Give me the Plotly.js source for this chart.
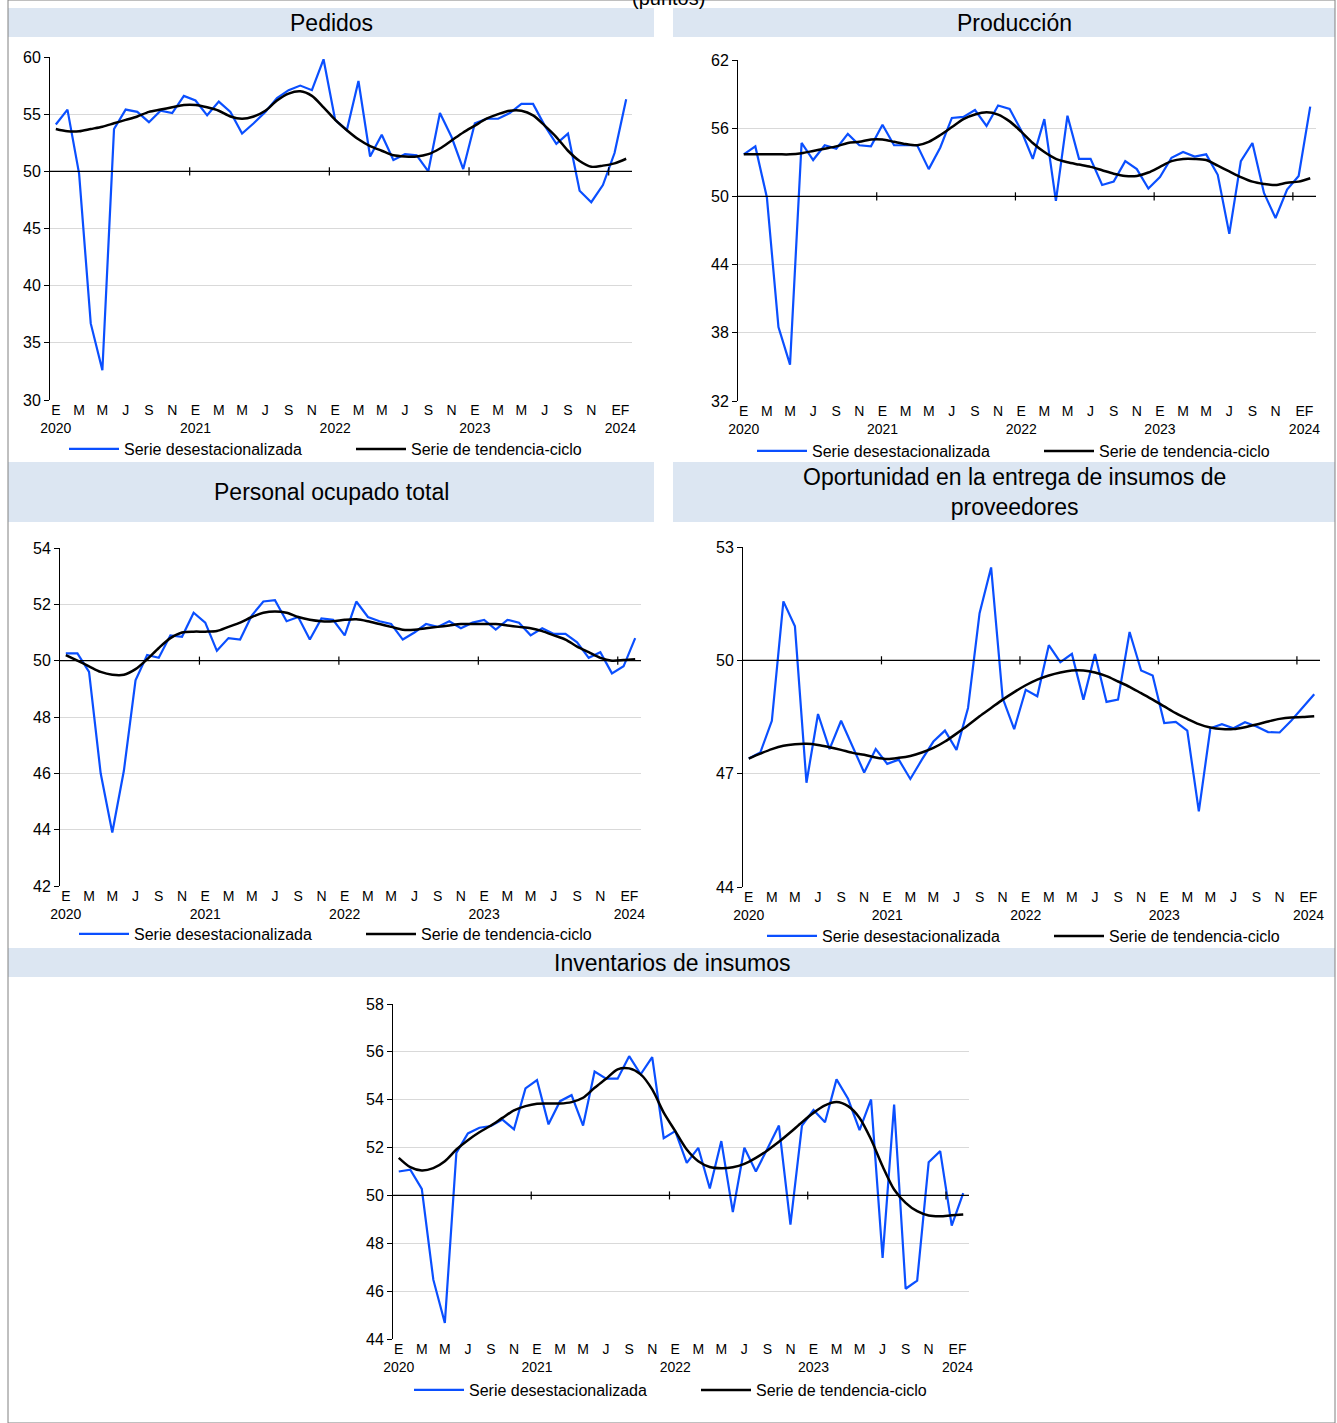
<!DOCTYPE html>
<html>
<head>
<meta charset="utf-8">
<script src="https://cdn.plot.ly/plotly-3.0.1.min.js"></script>
<style>body{margin:0;background:#fff}#chart{width:1337px;height:1423px}</style>
</head>
<body>
<div id="chart"></div>
<script>
// monthly data, Jan 2020 .. Feb 2024 (50 months)
const pedidosSA = [54.1,55.4,49.8,36.7,32.6,53.7,55.4,55.2,54.3,55.3,55.1,56.6,56.2,54.9,56.1,55.2,53.3,54.2,55.2,56.4,57.1,57.5,57.1,59.8,54.5,53.6,57.9,51.3,53.2,51.0,51.5,51.4,50.0,55.1,53.0,50.2,54.2,54.6,54.6,55.1,55.9,55.9,54.0,52.4,53.3,48.3,47.3,48.8,51.6,56.3];
const pedidosTC = [53.7,53.5,53.5,53.7,53.9,54.2,54.5,54.8,55.2,55.4,55.6,55.8,55.8,55.6,55.3,54.8,54.6,54.8,55.3,56.2,56.8,57.0,56.6,55.6,54.5,53.6,52.8,52.2,51.8,51.4,51.3,51.3,51.5,52.0,52.7,53.4,54.0,54.6,55.0,55.3,55.3,54.9,54.0,53.0,51.8,50.9,50.4,50.5,50.7,51.1];

const produccionSA = [53.7,54.4,49.9,38.5,35.2,54.7,53.2,54.5,54.2,55.5,54.5,54.4,56.3,54.5,54.5,54.5,52.4,54.3,56.9,57.0,57.6,56.2,58.0,57.7,55.8,53.3,56.8,49.6,57.1,53.3,53.3,51.0,51.3,53.1,52.4,50.7,51.7,53.4,53.9,53.5,53.7,51.9,46.7,53.1,54.7,50.3,48.1,50.6,51.8,57.9];
const produccionTC = [53.7,53.7,53.7,53.7,53.7,53.8,54.0,54.2,54.4,54.7,54.8,55.0,55.0,54.8,54.6,54.5,54.8,55.4,56.1,56.8,57.2,57.4,57.2,56.6,55.7,54.7,53.9,53.3,53.0,52.8,52.6,52.3,52.0,51.8,51.8,52.1,52.6,53.1,53.3,53.3,53.2,52.7,52.2,51.7,51.3,51.1,51.0,51.2,51.3,51.6];

const personalSA = [50.26,50.26,49.6,46.0,43.9,46.1,49.3,50.2,50.1,50.9,50.85,51.7,51.35,50.35,50.8,50.75,51.6,52.1,52.15,51.4,51.55,50.75,51.5,51.45,50.9,52.1,51.55,51.4,51.3,50.75,51.0,51.3,51.2,51.4,51.15,51.35,51.45,51.1,51.45,51.35,50.9,51.15,50.95,50.95,50.65,50.1,50.3,49.55,49.8,50.8];
const personalTC = [50.2,50.0,49.8,49.6,49.5,49.5,49.7,50.05,50.45,50.8,51.0,51.03,51.03,51.05,51.2,51.35,51.55,51.7,51.75,51.7,51.55,51.45,51.4,51.4,51.45,51.47,51.4,51.3,51.2,51.1,51.1,51.15,51.2,51.25,51.3,51.3,51.3,51.3,51.25,51.2,51.15,51.05,50.9,50.75,50.5,50.3,50.1,50.0,50.02,50.05];

const oportunidadSA = [47.4,47.56,48.4,51.56,50.9,46.76,48.58,47.65,48.4,47.7,47.03,47.65,47.26,47.37,46.86,47.37,47.85,48.14,47.63,48.74,51.25,52.46,49.0,48.18,49.22,49.05,50.4,49.95,50.17,48.96,50.17,48.9,48.96,50.75,49.73,49.6,48.34,48.37,48.14,46.0,48.2,48.31,48.2,48.36,48.25,48.1,48.09,48.4,48.74,49.1];
const oportunidadTC = [47.4,47.53,47.65,47.74,47.78,47.79,47.76,47.7,47.63,47.55,47.5,47.43,47.39,47.42,47.47,47.56,47.68,47.85,48.06,48.28,48.52,48.74,48.96,49.16,49.34,49.49,49.6,49.68,49.73,49.73,49.68,49.58,49.44,49.3,49.13,48.96,48.78,48.6,48.45,48.31,48.22,48.18,48.18,48.23,48.3,48.38,48.45,48.49,48.5,48.52];

const inventariosSA = [51.0,51.08,50.27,46.48,44.67,51.78,52.59,52.83,52.9,53.17,52.76,54.47,54.82,52.97,53.94,54.19,52.92,55.18,54.88,54.88,55.82,55.06,55.78,52.39,52.69,51.36,51.99,50.29,52.27,49.3,51.99,51.0,51.95,52.92,48.78,52.92,53.57,53.06,54.85,54.04,52.73,54.01,47.39,53.8,46.1,46.44,51.39,51.85,48.74,50.1];
const inventariosTC = [51.57,51.18,51.04,51.14,51.43,51.92,52.31,52.64,52.92,53.24,53.55,53.73,53.83,53.84,53.84,53.9,54.08,54.5,54.88,55.27,55.31,55.06,54.43,53.46,52.69,51.92,51.43,51.19,51.14,51.18,51.32,51.57,51.88,52.24,52.64,53.06,53.45,53.76,53.9,53.73,53.24,52.34,51.22,50.25,49.69,49.34,49.16,49.13,49.17,49.2];

const tickVals = [0,2,4,6,8,10,12,14,16,18,20,22,24,26,28,30,32,34,36,38,40,42,44,46,48.5];
const tickText = ['E<br>2020','M','M','J','S','N','E<br>2021','M','M','J','S','N','E<br>2022','M','M','J','S','N','E<br>2023','M','M','J','S','N','EF<br>2024'];
const yearBreaks = [11.5, 23.5, 35.5, 47.5];
const months = pedidosSA.map((_, i) => i);

const W = 1337, H = 1423;
const px = v => v / W;
const py = v => 1 - v / H;

// page-pixel boxes: [left, right, top, bottom], legend [x, y], header [l, r, t, b, text centre]
const panels = [
  { title: 'Pedidos', sa: pedidosSA, tc: pedidosTC, range: [30, 60], dtick: 5, box: [50, 632, 57, 400], leg: [64, 449], head: [8, 654, 8, 37, 331] },
  { title: 'Producción', sa: produccionSA, tc: produccionTC, range: [32, 62], dtick: 6, box: [738, 1316, 60, 401], leg: [752, 451], head: [673, 1335, 8, 37, 1014] },
  { title: 'Personal ocupado total', sa: personalSA, tc: personalTC, range: [42, 54], dtick: 2, box: [60, 641, 548, 886], leg: [74, 934], head: [8, 654, 462, 522, 331] },
  { title: 'Oportunidad en la entrega de insumos de<br>proveedores', sa: oportunidadSA, tc: oportunidadTC, range: [44, 53], dtick: 3, box: [743, 1320, 547, 887], leg: [762, 936], head: [673, 1335, 462, 522, 1014] },
  { title: 'Inventarios de insumos', sa: inventariosSA, tc: inventariosTC, range: [44, 58], dtick: 2, box: [393, 969, 1004, 1339], leg: [409, 1390], head: [8, 1335, 948, 977, 672] },
];

const font = 'Liberation Sans, Arial, sans-serif';
const traces = [];
const layout = {
  width: W, height: H, autosize: false,
  margin: { l: 0, r: 0, t: 0, b: 0, autoexpand: false },
  paper_bgcolor: '#ffffff', plot_bgcolor: '#ffffff',
  font: { family: font, color: '#000', size: 15 },
  shapes: [], annotations: [],
};

layout.shapes.push({ type: 'rect', xref: 'paper', yref: 'paper', x0: px(8), x1: px(1335), y0: 0, y1: 1, line: { color: '#808080', width: 1 } });
layout.annotations.push({ text: '(puntos)', xref: 'paper', yref: 'paper', x: 0.5, y: 1, yanchor: 'middle', yshift: 2, showarrow: false, font: { size: 20, family: font } });

panels.forEach((p, i) => {
  const n = i + 1;
  const xa = 'xaxis' + (n === 1 ? '' : n), ya = 'yaxis' + (n === 1 ? '' : n);
  const xr = 'x' + (n === 1 ? '' : n), yr = 'y' + (n === 1 ? '' : n);
  const lg = 'legend' + (n === 1 ? '' : n);
  const [l, r, t, b] = p.box;

  layout[xa] = {
    domain: [px(l), px(r)], anchor: yr, range: [-0.5, 49.5],
    showgrid: false, zeroline: false, showline: false, ticks: '', tickangle: 0,
    tickmode: 'array', tickvals: tickVals, ticktext: tickText,
    tickfont: { size: 14, family: font }, fixedrange: true,
  };
  layout[ya] = {
    domain: [py(b), py(t)], anchor: xr, range: p.range, tick0: p.range[0], dtick: p.dtick,
    showgrid: true, gridcolor: '#d9d9d9', gridwidth: 1, zeroline: false,
    showline: true, linecolor: '#000', linewidth: 1, ticks: 'outside', ticklen: 5,
    tickcolor: '#000', tickfont: { size: 16, family: font }, fixedrange: true,
  };
  layout[lg] = {
    orientation: 'h', x: px(p.leg[0]), y: py(p.leg[1]), xanchor: 'left', yanchor: 'middle',
    entrywidth: 222, entrywidthmode: 'pixels', font: { size: 16, family: font },
    bgcolor: 'rgba(0,0,0,0)', itemwidth: 50, tracegroupgap: 0,
  };

  // reference line at 50 and year marks
  layout.shapes.push({ type: 'line', xref: xr + ' domain', yref: yr, x0: 0, x1: 1, y0: 50, y1: 50, line: { color: '#000', width: 1.2 } });
  yearBreaks.forEach(v => {
    layout.shapes.push({ type: 'line', xref: xr, yref: yr, x0: v, x1: v, y0: 50 - (p.range[1] - p.range[0]) * 0.012, y1: 50 + (p.range[1] - p.range[0]) * 0.012, line: { color: '#000', width: 1.2 } });
  });

  // header bar
  const [hl, hr, ht, hb, hc] = p.head;
  layout.shapes.push({ type: 'rect', xref: 'paper', yref: 'paper', x0: px(hl), x1: px(hr), y0: py(hb), y1: py(ht), fillcolor: '#dce6f2', line: { width: 0 }, layer: 'below' });
  layout.annotations.push({ text: p.title, xref: 'paper', yref: 'paper', x: px(hc), y: py((ht + hb) / 2), xanchor: 'center', yanchor: 'middle', showarrow: false, font: { size: 23, family: font, color: '#000' } });

  traces.push({
    x: months, y: p.sa, xaxis: xr, yaxis: yr, type: 'scatter', mode: 'lines',
    name: 'Serie desestacionalizada', legend: lg,
    line: { color: '#0a4fff', width: 2.2 }, hoverinfo: 'skip',
  });
  traces.push({
    x: months, y: p.tc, xaxis: xr, yaxis: yr, type: 'scatter', mode: 'lines',
    name: 'Serie de tendencia-ciclo', legend: lg,
    line: { color: '#000000', width: 2.5, shape: 'spline', smoothing: 0.8 }, hoverinfo: 'skip',
  });
});

Plotly.newPlot('chart', traces, layout, { staticPlot: true });
</script>
</body>
</html>
